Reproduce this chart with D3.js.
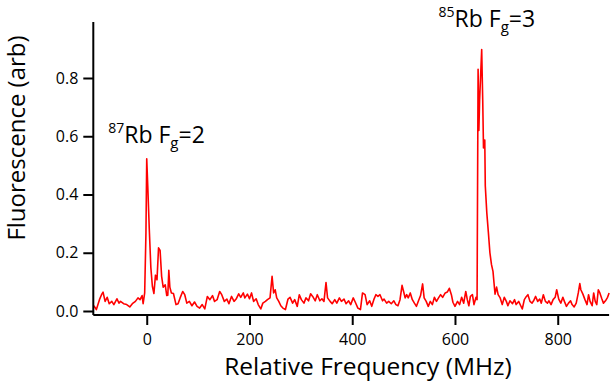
<!DOCTYPE html>
<html>
<head>
<meta charset="utf-8">
<script src="https://cdn.jsdelivr.net/npm/d3@7"></script>
<style>
  html, body { margin: 0; padding: 0; background: #fff; }
  svg { display: block; }
  text { font-family: "Open Sans", "DejaVu Sans", sans-serif; fill: #000; }
</style>
</head>
<body>
<svg id="chart" width="610" height="382"></svg>
<script>
// Relative frequency (MHz)
const freq = [
  -103,-98,-92,-88,-85,-81,-77,-73,-68,-64,-58,-54,-51,-45,-39,-33,-28,-22,-17,-13,-9,-7,-4,-1.5,
  0,2,5,8,11,14,17,20,23,26,29,32,36,39,41,43,45,48,52,57,61,65,70,74,78,83,88,93,98,103,108,113,
  118,123,128,132,137,142,146,151,156,160,165,170,174,179,183,188,191,196,200,204,208,213,217,222,
  226,231,235,240,244,247,250,253,257,261,265,270,275,279,284,288,293,297,301,306,310,315,319,323,
  328,332,337,341,345,349,352,357,361,366,370,375,379,384,388,393,397,402,406,411,416,420,425,429,
  434,438,442,446,450,454,459,462,467,471,476,481,485,489,493,497,500,503,506,509,513,517,521,525,
  529,533,537,540,544,548,552,556,560,564,568,572,576,581,585,589,593,596,600,605,609,613,617,621,
  624,627,630,634,637,641,643,645,646.5,648,652,654,655.5,658,659,662,665,668,671,674,676,678,681,
  684,688,692,696,700,703,707,712,716,719,724,728,731,735,739,742,746,750,753,757,761,765,768,772,
  776,780,783,787,791,795,798,802,806,810,813,817,821,825,828,832,836,840,843,845,849,853,857,860,
  863,867,870,873,876,879,882,886,889,893,897,900
];
// Fluorescence (arb)
const fluor = [
  0.018,0.005,0.039,0.056,0.065,0.033,0.047,0.025,0.033,0.022,0.042,0.027,0.033,0.025,0.022,0.014,0.025,0.033,0.045,0.039,0.053,0.025,0.062,0.27,
  0.523,0.43,0.28,0.15,0.085,0.06,0.123,0.107,0.217,0.208,0.119,0.082,0.09,0.053,0.054,0.14,0.082,0.062,0.06,0.022,0.025,0.045,0.067,0.056,0.027,0.033,0.018,0.031,0.016,0.01,0.022,0.007,
  0.05,0.039,0.053,0.033,0.039,0.067,0.056,0.033,0.041,0.025,0.05,0.033,0.041,0.059,0.047,0.062,0.045,0.058,0.042,0.062,0.033,0.042,0.022,0.007,
  0.027,0.033,0.039,0.045,0.119,0.062,0.073,0.045,0.033,0.018,0.01,0.005,0.041,0.047,0.027,0.039,0.016,0.056,0.039,0.027,0.045,0.035,0.059,0.05,
  0.035,0.056,0.035,0.042,0.033,0.098,0.045,0.033,0.025,0.039,0.027,0.045,0.033,0.041,0.025,0.035,0.022,0.045,0.03,0.01,0.005,0.062,0.056,0.022,
  0.035,0.016,0.039,0.056,0.05,0.056,0.035,0.041,0.027,0.033,0.025,0.035,0.022,0.018,0.039,0.088,0.067,0.045,0.056,0.045,0.062,0.039,0.027,0.016,
  0.035,0.053,0.093,0.045,0.033,0.016,0.033,0.022,0.047,0.033,0.045,0.056,0.047,0.062,0.065,0.078,0.056,0.03,0.016,0.033,0.022,0.047,0.027,0.067,
  0.039,0.018,0.05,0.056,0.022,0.047,0.039,0.83,0.62,0.725,0.898,0.725,0.56,0.587,0.43,0.336,0.27,0.2,0.16,0.136,0.096,0.058,0.082,
  0.056,0.045,0.022,0.047,0.033,0.018,0.035,0.025,0.039,0.022,0.033,0.018,0.007,0.039,0.05,0.056,0.033,0.027,0.035,0.05,0.033,0.041,0.027,0.056,
  0.033,0.027,0.035,0.022,0.039,0.047,0.073,0.041,0.027,0.047,0.033,0.016,0.027,0.035,0.022,0.014,0.027,0.062,0.094,0.073,0.058,0.039,0.022,0.056,
  0.033,0.018,0.062,0.033,0.022,0.073,0.062,0.041,0.027,0.035,0.047,0.062
];
const xTicks = [0, 200, 400, 600, 800];
const yTicks = [0.0, 0.2, 0.4, 0.6, 0.8];
const xLabel = "Relative Frequency (MHz)";
const yLabel = "Fluorescence (arb)";
const peakLabels = [
  { iso: "87", f: "2", x: -75, y: 0.578 },
  { iso: "85", f: "3", x: 568, y: 0.975 }
];

const svg = d3.select("#chart");
const x = d3.scaleLinear().domain([-104, 900]).range([93.3, 609.1]);
const y = d3.scaleLinear().domain([0, 0.8]).range([311, 78]);
const yTop = 0.992, yBot = -0.0137;

// line
const line = d3.line().x((d, i) => x(freq[i])).y(d => y(d));
svg.append("path")
  .datum(fluor)
  .attr("d", line)
  .attr("fill", "none")
  .attr("stroke", "#ff0000")
  .attr("stroke-width", 1.6)
  .attr("stroke-linejoin", "round");

// axes
const xAxis = svg.append("g")
  .attr("transform", `translate(0,${y(yBot)})`)
  .call(d3.axisBottom(x).tickValues(xTicks).tickFormat(d3.format("d")).tickSize(10).tickSizeOuter(0).tickPadding(9));
const yAxis = svg.append("g")
  .attr("transform", `translate(${x(-104)},0)`)
  .call(d3.axisLeft(y).tickValues(yTicks).tickFormat(d3.format(".1f")).tickSize(10).tickSizeOuter(0).tickPadding(5));
yAxis.select(".domain").attr("d", `M0,${y(yTop)}V${y(yBot)}`);
xAxis.select(".domain").attr("d", `M${x(-104)},0H${x(900)}`);
[xAxis, yAxis].forEach(g => {
  g.selectAll(".domain, .tick line").attr("stroke", "#000").attr("stroke-width", 2);
  g.selectAll(".tick text").attr("font-size", 16).attr("font-family", "Open Sans").attr("fill", "#000");
});

// axis titles
svg.append("text")
  .attr("x", 368).attr("y", 375)
  .attr("text-anchor", "middle")
  .attr("font-size", 24.5)
  .text(xLabel);
svg.append("text")
  .attr("transform", `translate(25,138) rotate(-90)`)
  .attr("text-anchor", "middle")
  .attr("font-size", 24)
  .text(yLabel);

// peak annotations
peakLabels.forEach(p => {
  const t = svg.append("text")
    .attr("x", x(p.x)).attr("y", y(p.y))
    .attr("font-size", 23);
  t.append("tspan").attr("font-size", 14).attr("dy", -10).text(p.iso);
  t.append("tspan").attr("dy", 10).text("Rb F");
  t.append("tspan").attr("font-size", 15).attr("dy", 5).text("g");
  t.append("tspan").attr("dy", -5).text("=" + p.f);
});
</script>
</body>
</html>
